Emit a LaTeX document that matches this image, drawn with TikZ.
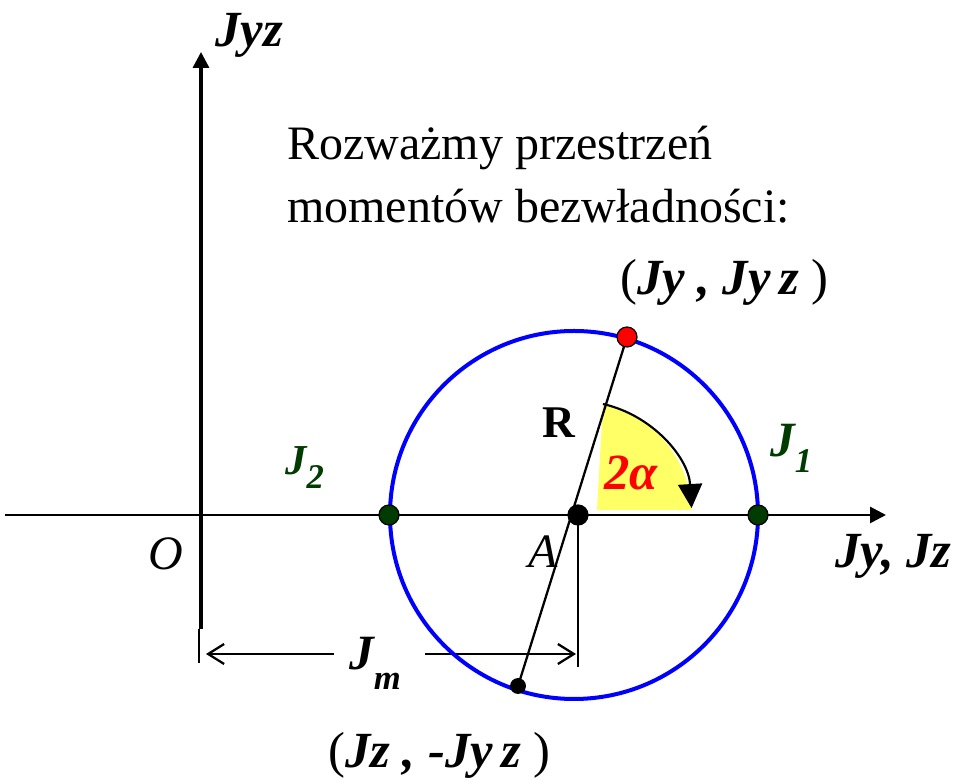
\documentclass[tikz,border=0pt]{standalone}
\usepackage{fontspec}
\setmainfont{Liberation Serif}
\usetikzlibrary{arrows.meta}
\definecolor{dkgreen}{RGB}{0,60,0}
\definecolor{sectoryellow}{RGB}{255,255,102}
\begin{document}
\begin{tikzpicture}[x=0.75pt,y=0.75pt,
  axis/.style={line width=2.1pt,-{Triangle[length=12pt,width=12pt]}},
  thinline/.style={line width=1.1pt},
  dimline/.style={line width=1.7pt},
  dimtip/.style={{Straight Barb[length=12pt,width=15pt,line width=1.7pt]}-},
  bi/.style={font=\fontsize{38}{44}\selectfont\bfseries\itshape, inner sep=0pt},
  txt/.style={font=\fontsize{36}{44}\selectfont, inner sep=0pt},
  it/.style={font=\fontsize{36}{44}\selectfont\itshape, inner sep=0pt},
  dot/.style={circle, draw=black, line width=0.9pt, inner sep=0pt}]
\useasboundingbox (0,0) rectangle (963,780);
% coordinates
\coordinate (O) at (201,265);
\coordinate (xstart) at (5,265);
\coordinate (xend) at (886,265);
\coordinate (ybot) at (201,151);
\coordinate (ytop) at (201,728);
\coordinate (e1a) at (199,151);
\coordinate (e1b) at (199,117);
\coordinate (Ac) at (578,265);
\coordinate (e2b) at (578,113);
\coordinate (d1) at (206,126);
\coordinate (d2) at (334,126);
\coordinate (d3) at (425,126);
\coordinate (d4) at (576,126);
\coordinate (C) at (574,265);
\coordinate (Ptop) at (627,443);
\coordinate (Pbot) at (518,94);
\coordinate (S1) at (597,270);
\coordinate (S2) at (603,376);
% yellow sector
\fill[sectoryellow] (S1) -- (S2) arc[start angle=77.3, end angle=3, radius=113.8] -- (691.6,270) -- cycle;
% axes
\draw[axis] (xstart) -- (xend);
\draw[axis, line width=2.5pt] (ybot) -- (ytop);
% extension lines
\draw[thinline] (e1a) -- (e1b);
\draw[thinline] (Ac) -- (e2b);
% dimension
\draw[dimline,dimtip] (d1) -- (d2);
\draw[dimline,-{Straight Barb[length=12pt,width=15pt,line width=1.7pt]}] (d3) -- (d4);
% circle
\draw[blue, line width=3pt] (C) circle[radius=184];
% R line
\draw[line width=1.7pt] (Ptop) -- (Pbot);
% angle arc
\draw[line width=1.6pt, -{Triangle[length=18pt,width=18pt]}] (S2) arc[start angle=77.3, end angle=3.5, radius=113.8];
% dots
\node[dot, fill=red, minimum size=15pt] (pr) at (Ptop) {};
\node[dot, fill=black, minimum size=11pt] (pb) at (Pbot) {};
\node[dot, fill=black, minimum size=15pt] (pa) at (Ac) {};
\node[dot, fill=dkgreen, minimum size=15pt] (j2) at (389,265) {};
\node[dot, fill=dkgreen, minimum size=15pt] (j1) at (758,265) {};
% labels
\node[bi, anchor=base west] (lyz) at (215,733) {Jyz};
\node[txt, anchor=base west] (t1) at (287,620) {Rozważmy przestrzeń};
\node[txt, anchor=base west] (t2) at (287,557) {momentów bezwładności:};
\node[bi, anchor=base west] (ltop) at (620,485) {{\upshape\mdseries(}Jy , Jy\,z {\upshape\mdseries)}};
\node[font=\fontsize{34}{40}\selectfont\bfseries, inner sep=0pt, anchor=base] (lR) at (559,342) {R};
\node[bi, red, anchor=base west] (la) at (604,290) {2α};
\node[bi, dkgreen, anchor=base west, font=\fontsize{37}{44}\selectfont\bfseries\itshape] (lj1) at (770,323) {J\raisebox{-12pt}{\fontsize{26}{30}\selectfont 1}};
\node[bi, dkgreen, anchor=base west, font=\fontsize{32}{40}\selectfont\bfseries\itshape] (lj2) at (285,305) {J\raisebox{-10pt}{\fontsize{26}{30}\selectfont 2}};
\node[it, anchor=base] (lO) at (166,210) {O};
\node[it, anchor=base] (lA) at (543,212) {A};
\node[bi, anchor=base west] (lax) at (835,212) {Jy, Jz};
\node[bi, anchor=base west, font=\fontsize{37}{44}\selectfont\bfseries\itshape] (ljm) at (349,110) {J\raisebox{-15pt}{\fontsize{26}{30}\selectfont m}};
\node[bi, anchor=base west] (lbot) at (328,12) {{\upshape\mdseries(}Jz , -Jy\,z {\upshape\mdseries)}};
\end{tikzpicture}
\end{document}
